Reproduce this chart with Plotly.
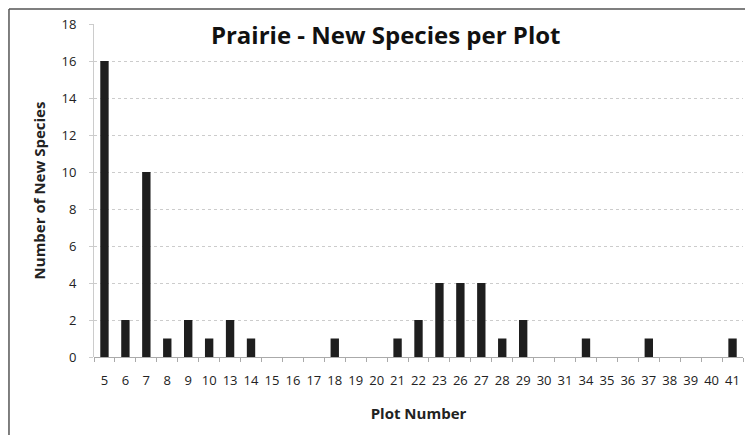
import plotly.graph_objects as go

plots = ["5", "6", "7", "8", "9", "10", "13", "14", "15", "16", "17", "18", "19", "20",
         "21", "22", "23", "26", "27", "28", "29", "30", "31", "34", "35", "36", "37",
         "38", "39", "40", "41"]
new_species = [16, 2, 10, 1, 2, 1, 2, 1, 0, 0, 0, 1, 0, 0,
               1, 2, 4, 4, 4, 1, 2, 0, 0, 1, 0, 0, 1,
               0, 0, 0, 1]
y_ticks = [0, 2, 4, 6, 8, 10, 12, 14, 16, 18]

fig = go.Figure(go.Bar(x=plots, y=new_species, marker=dict(color="#1e1e1e", line=dict(width=0))))

fig.update_layout(
    width=745, height=427,
    margin=dict(l=86, r=10, t=16, b=78, autoexpand=False),
    paper_bgcolor="white", plot_bgcolor="white",
    bargap=0.6,
    showlegend=False,
    font=dict(family="Open Sans, Liberation Sans, sans-serif", color="#222"),
    title=dict(text="<b>Prairie - New Species per Plot</b>", x=0.507, xanchor="center",
               y=0.935, yanchor="middle", font=dict(size=24, color="#111")),
)
fig.update_xaxes(
    type="category", tickfont=dict(size=13, color="#222"), tickangle=0,
    title=dict(text="<b>Plot Number</b>", font=dict(size=15, color="#222"), standoff=20),
    showline=False, showgrid=False, automargin=False,
    ticks="outside", tickson="boundaries", ticklen=4, tickcolor="#aaa",
    ticklabelstandoff=14,
)
fig.update_yaxes(
    range=[0, 18], tickvals=y_ticks, tickfont=dict(size=13, color="#222"),
    title=dict(text="<b>Number of New Species</b>", font=dict(size=15, color="#222"), standoff=12),
    showgrid=True, gridcolor="#cccccc", griddash="dot", gridwidth=1,
    zeroline=True, zerolinecolor="#aaa", zerolinewidth=1,
    showline=True, linecolor="#cccccc", linewidth=1, automargin=False,
    ticks="outside", ticklen=4, tickcolor="#cccccc",
    ticklabelstandoff=10,
)
# outer chart frame (left and top edges visible)
fig.add_shape(type="line", xref="paper", yref="paper", x0=-0.131, x1=-0.131, y0=1.045, y1=-0.3,
              line=dict(color="#555", width=1.5))
fig.add_shape(type="line", xref="paper", yref="paper", x0=-0.131, x1=1.02, y0=1.045, y1=1.045,
              line=dict(color="#555", width=1.5))

fig.write_html("out.html")
